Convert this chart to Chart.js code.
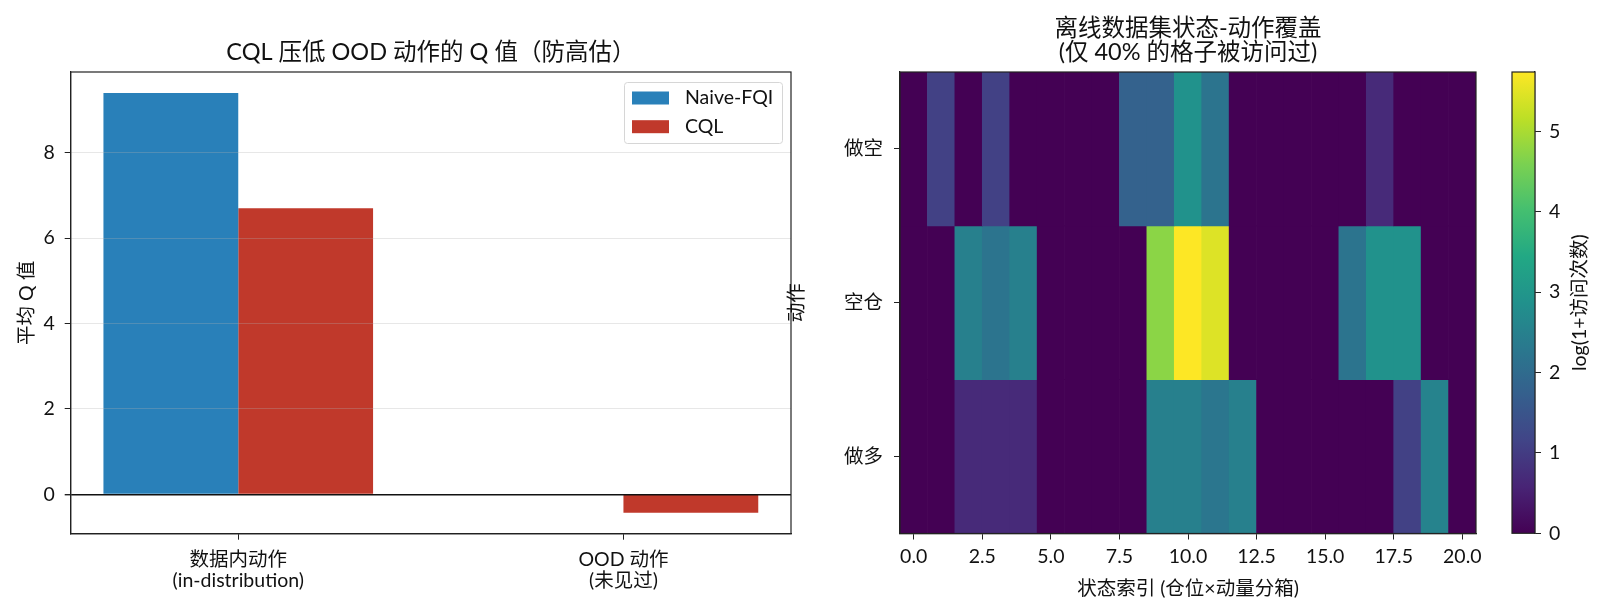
<!DOCTYPE html>
<html>
<head>
<meta charset="utf-8">
<script src="https://cdn.jsdelivr.net/npm/chart.js@4.4.1/dist/chart.umd.min.js"></script>
<style>
    html, body { margin: 0; padding: 0; background: #fff; }
    #wrap { position: relative; width: 1606px; height: 615px; }
    canvas { position: absolute; top: 0; }
</style>
</head>
<body>
<div id="wrap">
    <canvas id="q-chart" width="800" height="615" style="left:0"></canvas>
    <canvas id="heat-chart" width="720" height="615" style="left:780px"></canvas>
    <canvas id="cbar-chart" width="106" height="615" style="left:1500px"></canvas>
</div>
<script>
// DADOS - gráfico de barras (Q médio)
const actionGroups = [['数据内动作', '(in-distribution)'], ['OOD 动作', '(未见过)']];
const groupPos = [0, 1];
const naiveFqiQ = [9.40, 0.0];
const cqlQ = [6.70, -0.43];
const qTicks = [0, 2, 4, 6, 8];

// DADOS - mapa de cobertura log(1+visitas), linhas = ações
const actionLabels = ['做空', '空仓', '做多'];
const stateIdx = [0, 1, 2, 3, 4, 5, 6, 7, 8, 9, 10, 11, 12, 13, 14, 15, 16, 17, 18, 19, 20];
const coverShort = [0, 1.10, 0, 1.10, 0, 0, 0, 0, 1.79, 1.79, 2.89, 2.20, 0, 0, 0, 0, 0, 0.69, 0, 0, 0];
const coverFlat  = [0, 0, 2.48, 2.20, 2.48, 0, 0, 0, 0, 4.74, 5.74, 5.45, 0, 0, 0, 0, 2.20, 2.89, 2.89, 0, 0];
const coverLong  = [0, 0, 0.69, 0.69, 0.69, 0, 0, 0, 0, 2.48, 2.48, 2.25, 2.48, 0, 0, 0, 0, 0, 1.10, 2.56, 0];
const stateTicks = [0, 2.5, 5, 7.5, 10, 12.5, 15, 17.5, 20];
const cbarTicks = [0, 1, 2, 3, 4, 5];

const FONT = "Lato, 'Noto Sans CJK SC', sans-serif";
Chart.defaults.font.family = FONT;
Chart.defaults.font.size = 19.5;
Chart.defaults.color = '#111';

const VIRIDIS = ['#440154', '#482475', '#414487', '#355f8d', '#2a788e', '#21918c',
                 '#22a884', '#44bf70', '#7ad151', '#bddf26', '#fde725'];

function hexRgb(h) {
    return [1, 3, 5].map(i => parseInt(h.substr(i, 2), 16));
}

// interpola a paleta viridis (t entre 0 e 1)
function viridis(t) {
    t = Math.max(0, Math.min(1, t));
    const p = t * (VIRIDIS.length - 1);
    const i = Math.min(Math.floor(p), VIRIDIS.length - 2);
    const f = p - i;
    const a = hexRgb(VIRIDIS[i]), b = hexRgb(VIRIDIS[i + 1]);
    const c = a.map((v, k) => Math.round(v + (b[k] - v) * f));
    return `rgb(${c[0]}, ${c[1]}, ${c[2]})`;
}

// moldura completa em volta da área do gráfico
const framePlugin = {
    id: 'frame',
    afterDraw(chart) {
        const {ctx, chartArea: a} = chart;
        ctx.save();
        ctx.strokeStyle = '#222';
        ctx.lineWidth = 1.2;
        ctx.strokeRect(a.left, a.top, a.right - a.left, a.bottom - a.top);
        ctx.restore();
    }
};

// legenda dentro da área (canto superior direito)
const innerLegend = {
    id: 'innerLegend',
    afterDraw(chart) {
        const {ctx, chartArea: a} = chart;
        const w = 158, h = 61;
        const x = a.right - 9 - w, y = a.top + 10;
        ctx.save();
        ctx.fillStyle = 'rgba(255,255,255,0.8)';
        ctx.strokeStyle = '#d6d6d6';
        ctx.lineWidth = 1;
        ctx.beginPath();
        ctx.roundRect(x + 0.5, y + 0.5, w, h, 3);
        ctx.fill();
        ctx.stroke();
        ctx.font = '19.5px ' + FONT;
        ctx.textBaseline = 'middle';
        chart.data.datasets.forEach((ds, i) => {
            const cy = y + 16 + i * 28.7;
            ctx.fillStyle = ds.backgroundColor;
            ctx.fillRect(x + 8, cy - 6.5, 37, 13);
            ctx.fillStyle = '#111';
            ctx.fillText(ds.label, x + 61, cy);
        });
        ctx.restore();
    }
};

// GRÁFICO 1 - barras agrupadas
new Chart(document.getElementById('q-chart'), {
    type: 'bar',
    data: {
        datasets: [
            {
                label: 'Naive-FQI',
                data: groupPos.map((p, i) => ({x: p, y: naiveFqiQ[i]})),
                backgroundColor: '#2980b9',
                categoryPercentage: 0.7,
                barPercentage: 1.0
            },
            {
                label: 'CQL',
                data: groupPos.map((p, i) => ({x: p, y: cqlQ[i]})),
                backgroundColor: '#c0392b',
                categoryPercentage: 0.7,
                barPercentage: 1.0
            }
        ]
    },
    options: {
        responsive: false,
        animation: false,
        layout: { padding: { left: 0, right: 9, top: 0, bottom: 0 } },
        plugins: {
            legend: { display: false },
            tooltip: { enabled: false },
            title: {
                display: true,
                fullSize: false,
                text: 'CQL 压低 OOD 动作的 Q 值（防高估）',
                color: '#111',
                font: { size: 23.5, weight: 'normal', lineHeight: 1.0 },
                padding: { top: 40.25, bottom: 8.25 }
            }
        },
        scales: {
            x: {
                type: 'linear',
                min: -0.435,
                max: 1.435,
                offset: false,
                afterBuildTicks: s => { s.ticks = groupPos.map(v => ({value: v})); },
                afterFit: s => { s.height = 81.3; },
                ticks: {
                    callback: (v, i) => actionGroups[i],
                    font: { lineHeight: 1.05 },
                    padding: 10,
                    maxRotation: 0,
                    autoSkip: false
                },
                grid: { drawOnChartArea: false, offset: false, tickLength: 6, tickColor: '#222' },
                border: { color: '#222', width: 1.2 }
            },
            y: {
                min: -0.92,
                max: 9.89,
                afterBuildTicks: s => { s.ticks = qTicks.map(v => ({value: v})); },
                afterFit: s => { s.width = 70.7; },
                ticks: { padding: 10 },
                grid: {
                    color: c => (c.tick && c.tick.value === 0) ? '#111' : 'rgba(176,176,176,0.3)',
                    lineWidth: c => (c.tick && c.tick.value === 0) ? 1.4 : 1,
                    tickLength: 6,
                    tickColor: '#222',
                    z: 1
                },
                border: { color: '#222', width: 1.2, z: 1 },
                title: { display: true, text: '平均 Q 值', padding: { top: 15.3, bottom: 0 } }
            }
        }
    },
    plugins: [framePlugin, innerLegend]
});

// GRÁFICO 2 - mapa de cobertura (barras flutuantes como células)
const coverRows = [coverShort, coverFlat, coverLong];
const coverMax = Math.max(...coverRows.flat());

new Chart(document.getElementById('heat-chart'), {
    type: 'bar',
    data: {
        datasets: actionLabels.map((lab, r) => ({
            label: lab,
            data: stateIdx.map(s => ({x: s, y: [r - 0.5, r + 0.5]})),
            backgroundColor: coverRows[r].map(v => viridis(v / coverMax)),
            grouped: false,
            categoryPercentage: 1,
            barPercentage: 1,
            borderWidth: 0
        }))
    },
    options: {
        responsive: false,
        animation: false,
        layout: { padding: { left: 0, right: 24, top: 0, bottom: 0 } },
        plugins: {
            legend: { display: false },
            tooltip: { enabled: false },
            title: {
                display: true,
                fullSize: false,
                text: ['离线数据集状态-动作覆盖', '(仅 40% 的格子被访问过)'],
                color: '#111',
                font: { size: 23.5, weight: 'normal', lineHeight: 1.0 },
                padding: { top: 17, bottom: 8 }
            }
        },
        scales: {
            x: {
                type: 'linear',
                min: -0.5,
                max: 20.5,
                offset: false,
                afterBuildTicks: s => { s.ticks = stateTicks.map(v => ({value: v})); },
                afterFit: s => { s.height = 81.5; },
                ticks: { callback: v => v.toFixed(1), padding: 6, maxRotation: 0, autoSkip: false },
                grid: { drawOnChartArea: false, offset: false, tickLength: 6, tickColor: '#222' },
                border: { color: '#222', width: 1.2 },
                title: { display: true, text: '状态索引 (仓位×动量分箱)', padding: { top: 0, bottom: 15 } }
            },
            y: {
                min: -0.5,
                max: 2.5,
                reverse: true,
                afterBuildTicks: s => { s.ticks = actionLabels.map((l, i) => ({value: i})); },
                afterFit: s => { s.width = 120; },
                ticks: { callback: v => actionLabels[v], padding: 11 },
                grid: { drawOnChartArea: false, tickLength: 6, tickColor: '#222' },
                border: { color: '#222', width: 1.2 },
                title: { display: true, text: '动作', padding: { top: 5.5, bottom: 0 } }
            }
        }
    },
    plugins: [framePlugin]
});

// GRÁFICO 3 - barra de cores
const cbarLabel = {
    id: 'cbarLabel',
    afterDraw(chart) {
        const {ctx, chartArea: a} = chart;
        ctx.save();
        ctx.translate(80, (a.top + a.bottom) / 2);
        ctx.rotate(-Math.PI / 2);
        ctx.font = '19.5px ' + FONT;
        ctx.fillStyle = '#111';
        ctx.textAlign = 'center';
        ctx.textBaseline = 'middle';
        ctx.fillText('log(1+访问次数)', 0, 0);
        ctx.restore();
    }
};

new Chart(document.getElementById('cbar-chart'), {
    type: 'bar',
    data: {
        datasets: [{
            data: [{x: 0, y: [0, coverMax]}],
            backgroundColor: c => {
                const a = c.chart.chartArea;
                if (!a) return VIRIDIS[0];
                const g = c.chart.ctx.createLinearGradient(0, a.bottom, 0, a.top);
                VIRIDIS.forEach((col, i) => g.addColorStop(i / (VIRIDIS.length - 1), col));
                return g;
            },
            categoryPercentage: 1,
            barPercentage: 1,
            borderWidth: 0
        }]
    },
    options: {
        responsive: false,
        animation: false,
        layout: { padding: { left: 12, right: 0, top: 72, bottom: 81.7 } },
        plugins: { legend: { display: false }, tooltip: { enabled: false } },
        scales: {
            x: {
                type: 'linear',
                min: -0.5,
                max: 0.5,
                display: false,
                afterBuildTicks: s => { s.ticks = [{value: 0}]; }
            },
            y: {
                position: 'right',
                min: 0,
                max: coverMax,
                afterBuildTicks: s => { s.ticks = cbarTicks.map(v => ({value: v})); },
                afterFit: s => { s.width = 71; },
                ticks: { padding: 8 },
                grid: { drawOnChartArea: false, tickLength: 6, tickColor: '#222' },
                border: { color: '#222', width: 1.2 }
            }
        }
    },
    plugins: [framePlugin, cbarLabel]
});
</script>
</body>
</html>
